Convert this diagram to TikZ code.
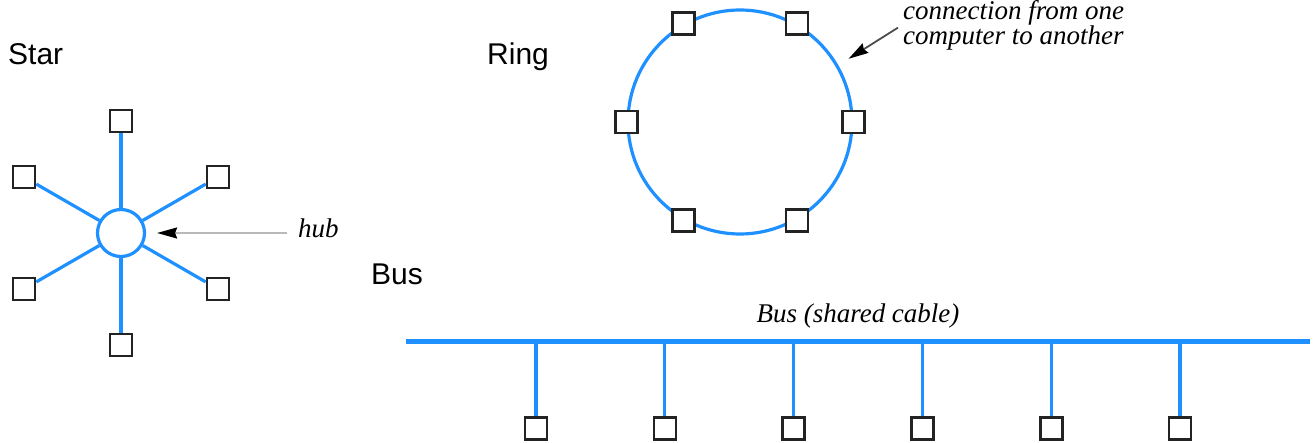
\documentclass[tikz,border=0pt]{standalone}
\usepackage{fontspec}
\setmainfont{Liberation Serif}
\newfontfamily\arialfont{Liberation Sans}
\usetikzlibrary{arrows.meta,calc}

\definecolor{cable}{RGB}{30,144,255}
\definecolor{boxline}{RGB}{35,35,35}

\tikzset{
  pc/.style={draw=boxline, fill=white, line width=2.6pt, minimum size=22pt,
             inner sep=0pt, shape=rectangle},
  wire/.style={draw=cable, line width=3.2pt},
  title/.style={font=\arialfont\fontsize{30}{34}\selectfont, anchor=base west, inner sep=0pt},
  note/.style={font=\itshape\fontsize{27}{22.5}\selectfont, inner sep=0pt},
  pointer/.style={line width=1.8pt, -{Stealth[length=20pt,width=11pt,inset=2pt,color=black,fill=black]}}
}

\begin{document}
\begin{tikzpicture}[x=1pt,y=-1pt]
  \useasboundingbox (0,0) rectangle (1313,443);

  % ---------- Star ----------
  \node[title] (startitle) at (8,65) {Star};
  \node[circle, draw=cable, fill=white, line width=3.2pt, minimum size=47pt, inner sep=0pt]
       (hub) at (121,233) {};
  \foreach \a/\n in {90/s1,30/s2,330/s3,270/s4,210/s5,150/s6}{
    \node[pc] (\n) at ($(hub.center)+(\a:112)$) {};
  }
  \foreach \n in {s1,s2,s3,s4,s5,s6}{
    \draw[wire] (\n) -- (hub);
  }
  \node[note, anchor=base west] (hubtxt) at (298,238) {hub};
  \draw[pointer, draw=gray!55]
       ([xshift=-11pt]hubtxt.west |- hub.center) -- ([xshift=11pt]hub.east);

  % ---------- Ring ----------
  \node[title] (ringtitle) at (487,65) {Ring};
  \node[circle, draw=cable, line width=3.2pt, minimum size=224pt, inner sep=0pt]
       (ring) at (740,122) {};
  \foreach \a/\n in {0/r1,60/r2,120/r3,180/r4,240/r5,300/r6}{
    \node[pc] (\n) at (ring.\a) {};
  }
  % the label's base is that of its last line
  \node[note, anchor=base west, align=left] (conn) at (903,45)
       {connection from one\\computer to another};
  \draw[pointer, draw=gray!60!black, shorten >=12pt]
       ([xshift=-5pt,yshift=-2pt]conn.west) -- (ring.30);

  % ---------- Bus ----------
  \node[title] (bustitle) at (371,285) {Bus};
  \coordinate (busL) at (406,341);
  \coordinate (busR) at (1310,341);
  \draw[draw=cable, line width=5pt] (busL) -- (busR);
  \node[note, anchor=base] (bustxt) at (858,323) {Bus (shared cable)};
  \foreach \i in {0,...,5}{
    \coordinate (j\i) at (536+128.8*\i,341);
    \node[pc] (b\i) at (536+128.8*\i,428.5) {};
    \draw[wire] (j\i) -- (b\i);
  }
\end{tikzpicture}
\end{document}
